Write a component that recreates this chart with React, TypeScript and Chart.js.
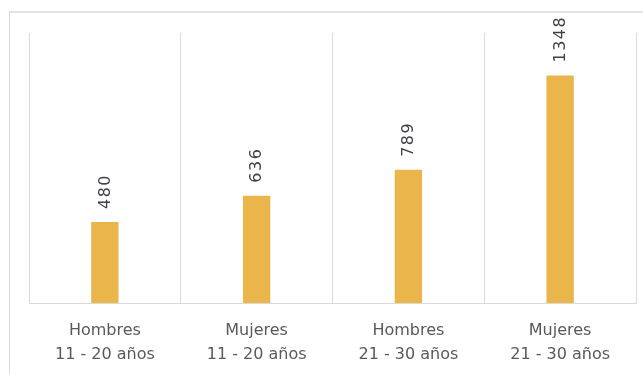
import React, { useEffect, useRef } from "react";
import { Chart, registerables } from "chart.js";

Chart.register(...registerables);

const categories: string[][] = [
  ["Hombres", "11 - 20 años"],
  ["Mujeres", "11 - 20 años"],
  ["Hombres", "21 - 30 años"],
  ["Mujeres", "21 - 30 años"],
];
const values: number[] = [480, 636, 789, 1348];
const yMax = 1600;

const FONT = "'DejaVu Sans', sans-serif";

const valueLabels = {
  id: "valueLabels",
  afterDatasetsDraw(chart: any) {
    const ctx = chart.ctx;
    const meta = chart.getDatasetMeta(0);
    ctx.save();
    ctx.fillStyle = "#3f3f46";
    ctx.font = `16px ${FONT}`;
    try {
      (ctx as any).letterSpacing = "1.5px";
    } catch (e) {}
    ctx.textAlign = "left";
    ctx.textBaseline = "middle";
    meta.data.forEach((bar: any, i: number) => {
      ctx.save();
      ctx.translate(bar.x + 0.5, bar.y - 13);
      ctx.rotate(-Math.PI / 2);
      ctx.fillText(String(values[i]), 0, 0);
      ctx.restore();
    });
    ctx.restore();
  },
};

export default function App() {
  const ref = useRef<HTMLCanvasElement | null>(null);
  useEffect(() => {
    if (!ref.current) return;
    const chart = new Chart(ref.current, {
      type: "bar",
      data: {
        labels: categories,
        datasets: [
          {
            data: values,
            backgroundColor: "#EAB54B",
            borderWidth: 0,
            categoryPercentage: 1,
            barPercentage: 0.18,
          },
        ],
      },
      options: {
        animation: false,
        responsive: false,
        maintainAspectRatio: false,
        layout: { padding: { left: 29, right: 7, top: 33, bottom: 0 } },
        plugins: { legend: { display: false }, tooltip: { enabled: false } },
        scales: {
          x: {
            grid: { display: true, color: "#d9d9d9", drawTicks: false, offset: true },
            border: { display: true, color: "#d9d9d9" },
            ticks: {
              color: "#595959",
              font: { family: FONT, size: 16, lineHeight: 1.55 },
              padding: 15,
              maxRotation: 0,
              autoSkip: false,
            },
            afterFit: (scale: any) => {
              scale.height = 71;
            },
          },
          y: {
            display: false,
            min: 0,
            max: yMax,
          },
        },
      },
      plugins: [valueLabels],
    });
    return () => chart.destroy();
  }, []);

  return (
    <div style={{ position: "fixed", left: 0, top: 0, width: 643, height: 374, background: "#fff" }}>
      <div
        style={{
          position: "absolute",
          left: 9,
          top: 11,
          width: 640,
          height: 370,
          borderTop: "2px solid #e3e3e3",
          borderLeft: "1px solid #d9d9d9",
        }}
      />
      <canvas ref={ref} width={643} height={374} style={{ position: "absolute", left: 0, top: 0 }} />
    </div>
  );
}
